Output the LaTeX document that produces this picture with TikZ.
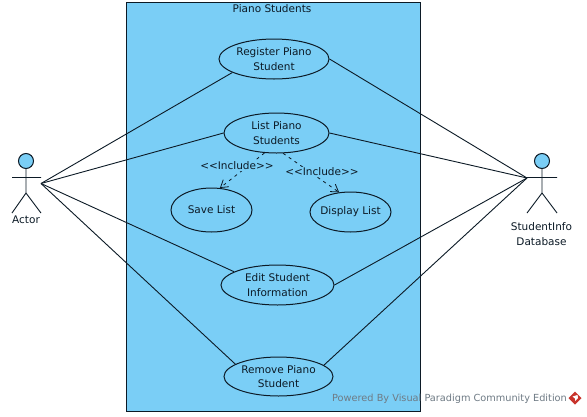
\documentclass[tikz,border=0pt]{standalone}
\usepackage{fontspec}
\setmainfont{DejaVu Sans}
\usetikzlibrary{arrows.meta,shapes.geometric}
\definecolor{vpblue}{HTML}{7ACEF6}
\definecolor{vpink}{HTML}{0C1A26}
\definecolor{vpgrey}{HTML}{6F7B85}
\definecolor{vpred}{HTML}{C8342C}
\tikzset{
  x=1pt,y=-1pt,
  every node/.style={font=\fontsize{10.5}{14.5}\selectfont,text=vpink,align=center},
  usecase/.style={ellipse,draw=vpink,line width=1pt,fill=vpblue,inner sep=-12pt},
  assoc/.style={draw=vpink,line width=0.9pt},
  incl/.style={draw=vpink,line width=0.8pt,dashed,dash pattern=on 3pt off 4pt,-{Straight Barb[length=7pt,width=9pt,line width=0.8pt]}},
  limb/.style={draw=vpink,line width=0.9pt},
  head/.style={circle,draw=vpink,line width=1pt,fill=vpblue,inner sep=0pt,minimum size=15pt},
  incllabel/.style={fill=vpblue,inner sep=0.8pt},
  plain/.style={inner sep=0pt}
}
\begin{document}
\begin{tikzpicture}
\useasboundingbox (0,0) rectangle (587,416);
\fill[white] (0,0) rectangle (587,416);
\node[plain,draw=vpink,line width=1pt,fill=vpblue,minimum width=294pt,minimum height=409pt] (system) at (273,206.5) {};
\node[plain] (systemlabel) at (272,9) {Piano Students};

% actors
\node[head] (lhead) at (26,161) {};
\coordinate (lhip) at (26,193);
\coordinate (larmL) at (12,177.5);
\coordinate (larmR) at (41,177.5);
\coordinate (llegL) at (12,213);
\coordinate (llegR) at (41,213);
\draw[limb] (lhead) -- (lhip) (larmL) -- (larmR) (llegL) -- (lhip) -- (llegR);
\node[plain] (actor) at (26,220) {Actor};
\node[head] (rhead) at (542,161) {};
\coordinate (rhip) at (542,193);
\coordinate (rarmL) at (527,177.5);
\coordinate (rarmR) at (557,177.5);
\coordinate (rlegL) at (527,213);
\coordinate (rlegR) at (557,213);
\draw[limb] (rhead) -- (rhip) (rarmL) -- (rarmR) (rlegL) -- (rhip) -- (rlegR);
\node[plain] (db) at (541.5,234) {StudentInfo\\Database};

% use cases
\node[usecase,minimum width=110pt,minimum height=40pt] (reg) at (274,59) {Register Piano\\Student};
\node[usecase,minimum width=105pt,minimum height=40pt] (list) at (276.5,133) {List Piano\\Students};
\node[usecase,minimum width=81pt,minimum height=44pt] (save) at (211.5,210) {Save List};
\node[usecase,minimum width=81pt,minimum height=40pt] (disp) at (350.5,212) {Display List};
\node[usecase,minimum width=113pt,minimum height=40pt] (edit) at (277.5,285) {Edit Student\\Information};
\node[usecase,minimum width=109pt,minimum height=39pt] (rem) at (278.5,376.5) {Remove Piano\\Student};

% associations
\coordinate (la) at (41,183.5);
\coordinate (ra) at (527,178);
\draw[assoc] (la) -- (reg.198);
\draw[assoc] (la) -- (list.west);
\draw[assoc] (la) -- (edit.163);
\draw[assoc] (la) -- (rem.164);
\draw[assoc] (ra) -- (reg.east);
\draw[assoc] (ra) -- (list.east);
\draw[assoc] (ra) -- (edit.east);
\draw[assoc] (ra) -- (rem.14);

% includes
\draw[incl] (list.239) -- (save.69);
\draw[incl] (list.288) -- (disp.120);
\node[incllabel] (inc1) at (237,166) {{<}{<}Include{>}{>}};
\node[incllabel] (inc2) at (322,171.5) {{<}{<}Include{>}{>}};

% footer
\node[plain,text=vpgrey,anchor=west,font=\fontsize{9.75}{12}\selectfont] (footer) at (332,399) {Powered By Visual Paradigm Community Edition};
\fill[vpred] (575,391.5) -- (581.5,398) -- (575,404.5) -- (568.5,398) -- cycle;
\fill[white] (572.5,396.5) -- (577.5,395) -- (578,398) -- (575,401) -- (575,398.5) -- cycle;
\end{tikzpicture}
\end{document}
